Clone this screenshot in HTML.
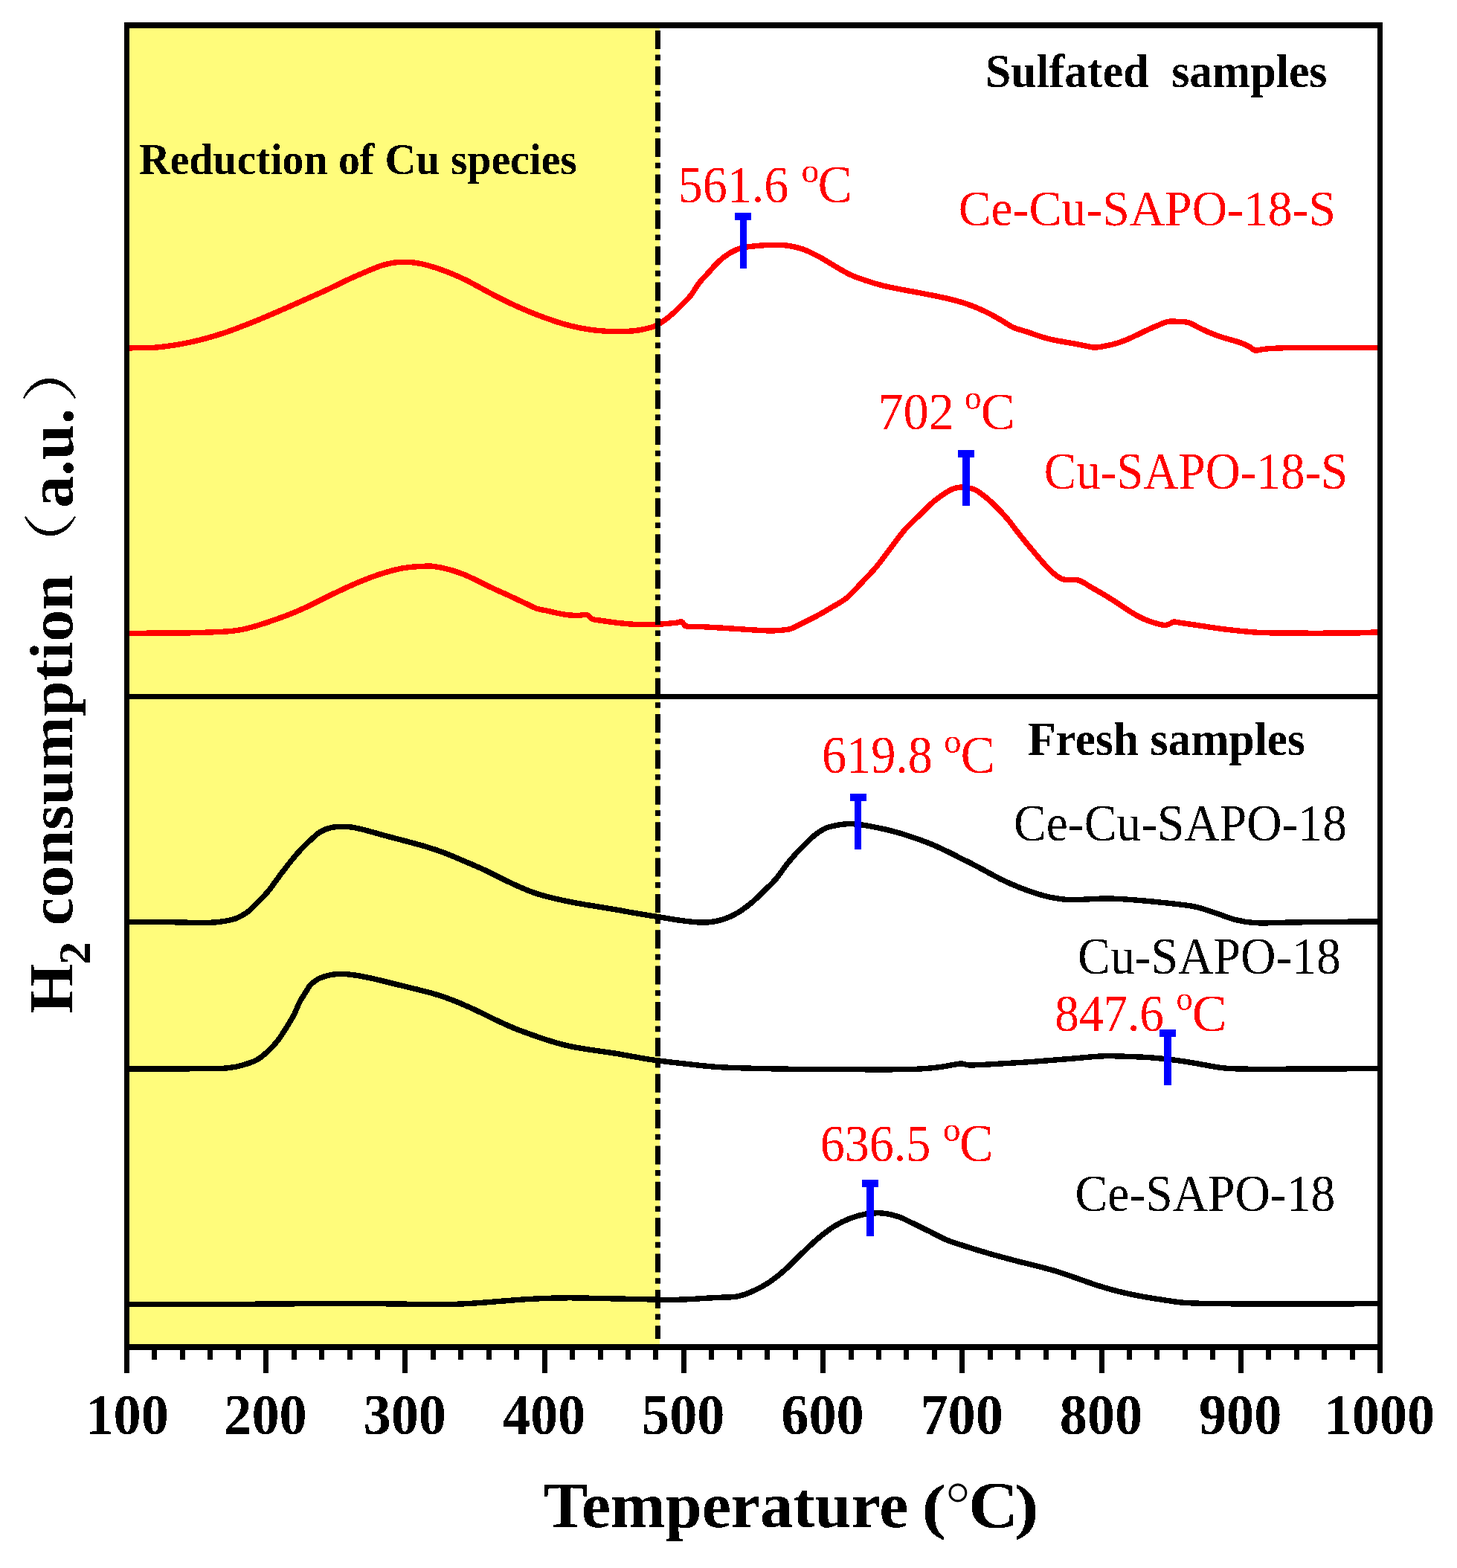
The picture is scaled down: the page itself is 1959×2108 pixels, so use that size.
<!DOCTYPE html>
<html><head><meta charset="utf-8"><title>H2-TPR</title>
<style>html,body{margin:0;padding:0;background:#fff;} svg{display:block;}</style></head>
<body><svg width="1959" height="2108" viewBox="0 0 1959 2108">
<defs><filter id="bin" filterUnits="userSpaceOnUse" x="0" y="0" width="1959" height="2108"><feComponentTransfer><feFuncA type="discrete" tableValues="0 1"/></feComponentTransfer></filter></defs>
<rect width="1959" height="2108" fill="#fff"/>
<rect x="174" y="38" width="713" height="1769" fill="#FFFC7B"/>
<path d="M174.0,467.9 C187.1,467.5 200.2,468.1 213.3,466.8 C227.7,465.4 242.2,463.0 256.6,459.9 C271.0,456.8 285.5,452.7 299.9,448.0 C314.3,443.3 328.8,437.5 343.2,431.7 C357.6,425.9 372.1,419.6 386.5,413.3 C401.0,407.0 415.5,400.5 430.0,394.0 C434.7,391.9 439.4,389.7 444.1,387.5 C448.8,385.3 453.4,382.9 458.1,380.6 C462.8,378.4 467.5,376.1 472.2,374.0 C476.9,371.8 481.6,369.8 486.3,367.8 C491.0,365.8 495.6,363.7 500.3,361.9 C505.0,360.0 509.7,358.0 514.4,356.6 C519.1,355.2 523.8,354.1 528.5,353.3 C533.2,352.6 537.8,352.3 542.5,352.2 C547.2,352.2 551.9,352.5 556.6,353.0 C561.3,353.6 566.0,354.5 570.7,355.6 C575.4,356.8 580.1,358.2 584.8,359.7 C589.5,361.2 594.1,362.9 598.8,364.6 C603.5,366.4 608.2,368.2 612.9,370.3 C617.6,372.3 622.3,374.5 627.0,376.8 C631.3,379.0 635.7,381.3 640.0,383.7 C644.7,386.2 649.4,388.8 654.1,391.4 C658.8,393.9 663.4,396.4 668.1,398.8 C672.8,401.2 677.5,403.6 682.2,405.9 C686.9,408.1 691.6,410.3 696.3,412.4 C701.0,414.5 705.6,416.6 710.3,418.5 C715.0,420.5 719.7,422.3 724.4,424.1 C729.1,425.9 733.8,427.6 738.5,429.2 C743.2,430.9 747.8,432.5 752.5,433.9 C757.2,435.3 761.9,436.7 766.6,437.9 C771.3,439.0 776.0,440.1 780.7,441.0 C785.4,441.9 790.1,442.7 794.8,443.4 C799.5,444.0 804.1,444.5 808.8,444.8 C813.5,445.2 818.2,445.5 822.9,445.7 C827.6,445.8 832.3,445.9 837.0,445.7 C841.7,445.6 846.3,445.3 851.0,444.9 C854.0,444.6 857.0,444.2 860.0,443.7 C862.9,443.2 865.8,442.5 868.7,441.8 C871.6,441.2 874.4,440.5 877.3,439.7 C878.5,439.3 879.6,438.9 880.8,438.3 C883.2,437.1 885.7,435.6 888.1,434.1 C890.3,432.7 892.4,431.3 894.6,429.7 C897.5,427.5 900.4,425.2 903.3,422.7 C906.2,420.2 909.0,417.4 911.9,414.6 C914.8,411.7 917.7,408.7 920.6,405.7 C923.5,402.7 926.4,400.3 929.3,396.5 C932.7,392.0 936.2,385.4 939.6,381.0 C943.9,375.4 948.3,371.3 952.6,366.5 C956.9,361.7 961.2,356.5 965.5,352.4 C969.8,348.3 974.2,344.8 978.5,342.0 C983.7,338.7 988.9,335.8 994.1,334.2 C1000.5,332.2 1006.9,331.7 1013.3,331.0 C1020.5,330.1 1027.7,329.6 1034.9,329.5 C1042.1,329.3 1049.4,329.0 1056.6,329.9 C1063.8,330.8 1071.0,332.2 1078.2,334.6 C1085.4,337.0 1092.7,340.6 1099.9,344.4 C1107.1,348.1 1114.3,353.0 1121.5,357.1 C1128.7,361.3 1136.0,365.9 1143.2,369.3 C1150.4,372.7 1157.6,374.9 1164.8,377.4 C1172.0,379.8 1179.3,382.0 1186.5,383.9 C1193.7,385.7 1200.9,387.0 1208.1,388.4 C1215.3,389.9 1222.5,391.1 1229.7,392.4 C1236.5,393.7 1243.2,395.0 1250.0,396.4 C1254.7,397.3 1259.4,398.2 1264.1,399.2 C1268.8,400.2 1273.4,401.2 1278.1,402.4 C1282.8,403.6 1287.5,404.8 1292.2,406.2 C1296.9,407.7 1301.6,409.2 1306.3,411.0 C1311.0,412.7 1315.6,414.6 1320.3,416.8 C1325.0,418.9 1329.7,421.3 1334.4,423.8 C1339.1,426.4 1343.8,429.2 1348.5,431.9 C1353.2,434.7 1357.8,438.2 1362.5,440.3 C1367.2,442.4 1371.9,443.2 1376.6,444.8 C1381.3,446.3 1386.0,447.9 1390.7,449.5 C1395.4,451.1 1400.1,452.7 1404.8,454.1 C1409.5,455.4 1414.1,456.6 1418.8,457.5 C1423.5,458.5 1428.2,459.2 1432.9,460.0 C1437.6,460.8 1442.3,461.6 1447.0,462.5 C1451.7,463.4 1456.3,464.4 1461.0,465.3 C1464.8,466.0 1468.5,467.2 1472.3,467.1 C1477.9,466.9 1483.6,465.5 1489.2,464.5 C1492.8,463.8 1496.4,463.0 1500.0,461.9 C1504.7,460.5 1509.4,458.8 1514.1,457.0 C1518.8,455.1 1523.4,452.8 1528.1,450.6 C1532.8,448.4 1537.5,445.9 1542.2,443.8 C1546.9,441.6 1551.6,439.5 1556.3,437.6 C1561.0,435.8 1565.6,433.3 1570.3,432.4 C1575.0,431.5 1579.7,432.2 1584.4,432.4 C1589.1,432.6 1593.8,432.4 1598.5,433.8 C1603.2,435.2 1607.8,438.5 1612.5,440.8 C1617.2,443.0 1621.9,445.3 1626.6,447.3 C1631.3,449.3 1636.0,451.0 1640.7,452.6 C1645.4,454.2 1650.1,455.4 1654.8,456.8 C1659.5,458.2 1664.1,459.3 1668.8,461.1 C1672.6,462.5 1676.3,464.1 1680.1,466.2 C1682.4,467.5 1684.8,470.5 1687.1,471.0 C1690.4,471.7 1693.7,470.2 1697.0,469.8 C1699.3,469.5 1701.7,469.1 1704.0,468.9 C1711.0,468.4 1718.1,467.9 1725.1,467.8 C1736.7,467.5 1748.4,467.8 1760.0,467.8 C1791.7,467.7 1823.3,467.6 1855.0,467.5" fill="none" stroke="#FF0000" stroke-width="7.4" stroke-linejoin="round" shape-rendering="crispEdges"/>
<path d="M174.0,851.5 C187.1,851.3 200.2,851.1 213.3,851.0 C227.7,850.9 242.2,851.1 256.6,850.8 C271.1,850.5 285.5,849.9 300.0,849.2 C304.7,849.0 309.4,848.7 314.1,848.1 C318.8,847.6 323.4,846.8 328.1,845.8 C332.8,844.8 337.5,843.4 342.2,842.1 C346.9,840.8 351.6,839.2 356.3,837.7 C361.0,836.2 365.6,834.6 370.3,832.9 C375.0,831.3 379.7,829.6 384.4,827.8 C389.1,826.0 393.8,824.2 398.5,822.2 C403.2,820.2 407.8,818.1 412.5,815.9 C417.2,813.7 421.9,811.3 426.6,809.0 C431.3,806.7 436.0,804.3 440.7,802.0 C445.4,799.7 450.1,797.3 454.8,795.1 C459.5,792.9 464.1,790.7 468.8,788.6 C473.5,786.5 478.2,784.4 482.9,782.5 C487.6,780.5 492.3,778.6 497.0,776.8 C501.7,775.1 506.3,773.4 511.0,771.9 C515.7,770.4 520.4,768.9 525.1,767.7 C529.8,766.4 534.5,765.2 539.2,764.3 C543.9,763.4 548.5,762.8 553.2,762.3 C555.5,762.0 557.7,761.9 560.0,761.8 C564.7,761.5 569.4,761.2 574.1,761.1 C576.4,761.0 578.8,761.0 581.1,761.2 C585.8,761.8 590.5,762.6 595.2,763.6 C599.9,764.6 604.5,765.8 609.2,767.2 C613.9,768.7 618.6,770.3 623.3,772.1 C628.0,774.0 632.7,776.3 637.4,778.5 C642.1,780.7 646.7,783.2 651.4,785.5 C656.1,787.8 660.8,790.0 665.5,792.2 C670.2,794.4 674.9,796.4 679.6,798.5 C684.3,800.7 689.0,802.9 693.7,805.1 C698.4,807.3 703.0,809.5 707.7,811.7 C712.4,813.9 717.1,816.6 721.8,818.2 C726.5,819.8 731.2,820.2 735.9,821.2 C740.6,822.2 745.2,823.5 749.9,824.4 C754.6,825.3 759.3,826.3 764.0,826.8 C768.7,827.3 773.4,827.4 778.1,827.4 C781.8,827.3 785.6,825.7 789.3,826.7 C791.7,827.3 794.0,831.3 796.4,832.3 C799.7,833.7 802.9,833.5 806.2,834.0 C810.8,834.7 815.4,835.4 820.0,836.0 C825.1,836.7 830.1,837.4 835.2,837.9 C840.2,838.4 845.3,838.9 850.3,839.2 C855.4,839.5 860.4,839.7 865.5,839.7 C870.5,839.7 875.6,839.6 880.6,839.4 C885.7,839.2 890.7,838.9 895.8,838.5 C900.8,838.1 905.9,837.5 910.9,837.0 C912.9,836.7 915.0,835.2 917.0,836.1 C918.5,836.8 920.0,841.3 921.5,841.7 C928.1,843.4 934.6,842.2 941.2,842.5 C951.3,843.1 961.4,843.6 971.5,844.2 C981.6,844.9 991.7,845.6 1001.8,846.2 C1011.9,846.8 1022.0,847.6 1032.1,847.9 C1037.2,848.0 1042.2,847.9 1047.3,847.5 C1052.3,847.1 1057.4,847.0 1062.4,845.5 C1067.5,844.0 1072.5,840.9 1077.6,838.5 C1085.1,834.8 1092.5,831.2 1100.0,827.1 C1106.5,823.6 1113.0,819.7 1119.5,815.8 C1126.0,811.8 1132.5,808.8 1139.0,803.4 C1145.5,798.0 1151.9,790.3 1158.4,783.5 C1164.9,776.6 1171.4,770.2 1177.9,762.5 C1184.4,754.8 1190.9,745.6 1197.4,737.1 C1203.9,728.7 1210.4,719.2 1216.9,711.8 C1223.4,704.4 1229.9,698.9 1236.4,692.5 C1242.9,686.2 1249.4,679.2 1255.9,673.8 C1262.4,668.4 1268.8,663.8 1275.3,660.2 C1279.9,657.6 1284.4,655.9 1289.0,655.3 C1294.2,654.6 1299.4,655.3 1304.6,656.3 C1307.8,656.9 1311.1,658.0 1314.3,660.2 C1320.8,664.5 1327.3,669.8 1333.8,675.8 C1340.3,681.8 1346.8,688.6 1353.3,696.2 C1359.8,703.7 1366.2,713.0 1372.7,721.0 C1379.2,729.1 1385.7,736.9 1392.2,744.5 C1398.7,752.0 1405.2,760.2 1411.7,766.4 C1416.9,771.4 1422.1,775.7 1427.3,778.1 C1431.5,780.1 1435.8,779.1 1440.0,779.5 C1443.8,779.9 1447.5,779.0 1451.3,780.4 C1456.9,782.5 1462.5,786.9 1468.1,790.1 C1472.8,792.8 1477.5,795.4 1482.2,798.2 C1486.9,800.9 1491.6,803.8 1496.3,806.8 C1501.0,809.8 1505.6,813.0 1510.3,816.1 C1515.0,819.1 1519.7,822.3 1524.4,825.1 C1529.1,827.8 1533.8,830.4 1538.5,832.5 C1543.2,834.5 1547.8,836.1 1552.5,837.5 C1557.2,838.8 1561.9,840.3 1566.6,840.5 C1569.0,840.6 1571.3,839.2 1573.7,838.2 C1575.1,837.7 1576.5,836.1 1577.9,836.0 C1581.2,835.8 1584.4,836.9 1587.7,837.4 C1594.7,838.4 1601.8,839.4 1608.8,840.4 C1618.2,841.8 1627.6,843.4 1637.0,844.7 C1646.4,846.0 1655.7,847.1 1665.1,848.0 C1676.7,849.1 1688.4,850.5 1700.0,850.7 C1740.3,851.5 1780.5,851.3 1820.8,851.0 C1832.2,850.9 1843.6,850.1 1855.0,849.7" fill="none" stroke="#FF0000" stroke-width="7.4" stroke-linejoin="round" shape-rendering="crispEdges"/>
<path d="M174.0,1239.4 C194.3,1239.5 214.6,1239.6 234.9,1239.8 C245.7,1239.9 256.6,1240.5 267.4,1240.5 C274.9,1240.5 282.5,1240.5 290.0,1239.9 C294.7,1239.6 299.4,1238.9 304.1,1238.0 C308.8,1237.1 313.4,1236.3 318.1,1234.4 C322.8,1232.5 327.5,1230.1 332.2,1226.6 C336.9,1223.1 341.6,1218.0 346.3,1213.2 C351.0,1208.6 355.6,1204.1 360.3,1198.5 C365.0,1192.9 369.7,1185.8 374.4,1179.5 C379.1,1173.2 383.8,1166.9 388.5,1161.0 C393.2,1155.2 397.8,1149.4 402.5,1144.3 C407.2,1139.2 411.9,1134.6 416.6,1130.2 C421.3,1125.9 426.0,1121.2 430.7,1118.3 C435.4,1115.4 440.1,1113.9 444.8,1112.7 C449.5,1111.5 454.1,1111.5 458.8,1111.4 C463.5,1111.3 468.2,1111.5 472.9,1112.1 C477.6,1112.7 482.3,1113.9 487.0,1115.0 C491.7,1116.1 496.3,1117.5 501.0,1118.8 C505.7,1120.1 510.4,1121.4 515.1,1122.7 C519.8,1124.0 524.5,1125.2 529.2,1126.5 C537.5,1128.7 545.8,1130.8 554.1,1133.1 C558.8,1134.3 563.4,1135.6 568.1,1136.9 C572.8,1138.3 577.5,1139.7 582.2,1141.3 C586.9,1142.8 591.6,1144.4 596.3,1146.2 C601.0,1148.0 605.6,1149.9 610.3,1151.8 C615.0,1153.8 619.7,1155.8 624.4,1157.8 C629.1,1159.8 633.8,1161.7 638.5,1163.8 C643.2,1165.8 647.8,1167.9 652.5,1170.1 C657.2,1172.3 661.9,1174.7 666.6,1177.0 C671.3,1179.3 676.0,1181.7 680.7,1184.0 C685.4,1186.3 690.1,1188.6 694.8,1190.7 C699.5,1192.8 704.1,1194.8 708.8,1196.7 C713.5,1198.5 718.2,1200.3 722.9,1201.8 C727.6,1203.3 732.3,1204.6 737.0,1205.8 C741.7,1207.0 746.3,1208.1 751.0,1209.1 C755.7,1210.2 760.4,1211.2 765.1,1212.1 C769.8,1213.1 774.5,1214.0 779.2,1214.8 C786.1,1216.1 793.1,1217.2 800.0,1218.3 C802.7,1218.8 805.4,1219.1 808.1,1219.6 C815.3,1220.8 822.5,1222.0 829.7,1223.2 C836.9,1224.5 844.2,1225.9 851.4,1227.2 C858.6,1228.4 865.8,1229.5 873.0,1230.7 C880.2,1231.8 887.5,1233.0 894.7,1234.2 C901.9,1235.4 909.1,1236.7 916.3,1237.6 C924.2,1238.7 932.1,1239.6 940.0,1240.0 C944.3,1240.3 948.7,1240.2 953.0,1239.8 C957.3,1239.4 961.7,1238.7 966.0,1237.7 C970.3,1236.6 974.7,1235.3 979.0,1233.5 C983.3,1231.8 987.7,1229.6 992.0,1227.0 C996.3,1224.5 1000.6,1221.4 1004.9,1218.1 C1009.2,1214.8 1013.6,1211.0 1017.9,1207.0 C1022.2,1203.1 1026.6,1198.7 1030.9,1194.3 C1035.2,1190.0 1039.6,1186.1 1043.9,1180.9 C1048.2,1175.7 1052.6,1168.9 1056.9,1163.3 C1061.2,1157.8 1065.6,1152.6 1069.9,1147.8 C1074.2,1143.0 1078.6,1138.7 1082.9,1134.5 C1087.2,1130.3 1091.5,1125.9 1095.8,1122.5 C1100.1,1119.1 1104.5,1116.1 1108.8,1114.0 C1113.1,1111.9 1117.5,1111.1 1121.8,1110.1 C1126.1,1109.1 1130.5,1108.4 1134.8,1108.0 C1139.1,1107.6 1143.5,1107.6 1147.8,1107.8 C1152.1,1108.0 1156.5,1108.5 1160.8,1109.2 C1167.2,1110.2 1173.6,1111.5 1180.0,1112.8 C1184.7,1113.7 1189.4,1114.8 1194.1,1115.9 C1198.8,1117.1 1203.4,1118.3 1208.1,1119.6 C1212.8,1121.0 1217.5,1122.5 1222.2,1124.0 C1226.9,1125.5 1231.6,1127.1 1236.3,1128.8 C1241.0,1130.5 1245.6,1132.2 1250.3,1134.1 C1255.0,1136.0 1259.7,1138.1 1264.4,1140.3 C1269.1,1142.4 1273.8,1144.8 1278.5,1147.1 C1283.2,1149.4 1287.8,1151.8 1292.5,1154.2 C1297.2,1156.5 1301.9,1158.8 1306.6,1161.2 C1311.3,1163.6 1316.0,1166.1 1320.7,1168.6 C1325.4,1171.1 1330.1,1173.8 1334.8,1176.3 C1339.5,1178.8 1344.1,1181.3 1348.8,1183.5 C1353.5,1185.8 1358.2,1187.9 1362.9,1189.8 C1367.6,1191.8 1372.3,1193.7 1377.0,1195.5 C1381.7,1197.3 1386.3,1198.9 1391.0,1200.4 C1395.7,1201.9 1400.4,1203.4 1405.1,1204.6 C1409.8,1205.8 1414.5,1206.9 1419.2,1207.5 C1426.1,1208.5 1433.1,1209.7 1440.0,1209.7 C1456.4,1209.8 1472.9,1207.9 1489.3,1208.0 C1502.6,1208.1 1515.8,1209.1 1529.1,1210.2 C1546.8,1211.6 1564.4,1213.5 1582.1,1215.5 C1591.0,1216.5 1599.8,1217.4 1608.7,1219.4 C1617.5,1221.4 1626.4,1224.8 1635.2,1227.7 C1644.0,1230.6 1652.9,1234.5 1661.7,1236.7 C1670.5,1238.9 1679.4,1240.3 1688.2,1240.7 C1705.9,1241.4 1723.6,1240.1 1741.3,1239.9 C1779.2,1239.5 1817.1,1239.2 1855.0,1238.8" fill="none" stroke="#000" stroke-width="7.4" stroke-linejoin="round" shape-rendering="crispEdges"/>
<path d="M174.0,1436.8 C194.3,1436.8 214.6,1436.8 234.9,1436.8 C253.3,1436.8 271.6,1436.9 290.0,1436.6 C294.7,1436.6 299.4,1436.4 304.1,1436.0 C308.8,1435.5 313.4,1434.9 318.1,1434.0 C322.8,1433.0 327.5,1431.7 332.2,1430.1 C336.9,1428.5 341.6,1427.2 346.3,1424.4 C351.0,1421.6 355.6,1417.6 360.3,1413.2 C365.0,1408.7 369.7,1403.9 374.4,1397.7 C379.1,1391.5 383.8,1383.4 388.5,1375.9 C390.8,1372.1 393.2,1368.6 395.5,1363.9 C397.8,1359.2 400.2,1352.4 402.5,1347.8 C404.9,1343.1 407.2,1339.9 409.6,1336.1 C411.9,1332.4 414.3,1328.1 416.6,1325.2 C419.0,1322.3 421.3,1320.6 423.7,1318.9 C426.0,1317.1 428.4,1315.6 430.7,1314.7 C435.4,1312.9 440.1,1311.5 444.8,1310.6 C449.5,1309.7 454.1,1309.4 458.8,1309.4 C463.5,1309.4 468.2,1309.9 472.9,1310.4 C477.6,1311.0 482.3,1311.8 487.0,1312.7 C491.7,1313.6 496.3,1314.5 501.0,1315.6 C505.7,1316.6 510.4,1317.8 515.1,1318.9 C519.8,1320.0 524.5,1321.2 529.2,1322.4 C537.5,1324.4 545.8,1326.4 554.1,1328.5 C558.8,1329.6 563.4,1330.8 568.1,1332.0 C572.8,1333.2 577.5,1334.3 582.2,1335.7 C586.9,1337.0 591.6,1338.4 596.3,1340.1 C601.0,1341.7 605.6,1343.5 610.3,1345.3 C615.0,1347.2 619.7,1349.1 624.4,1351.2 C629.1,1353.2 633.8,1355.3 638.5,1357.5 C643.2,1359.7 647.8,1362.0 652.5,1364.3 C657.2,1366.6 661.9,1369.0 666.6,1371.2 C671.3,1373.4 676.0,1375.6 680.7,1377.7 C685.4,1379.8 690.1,1381.8 694.8,1383.7 C699.5,1385.5 704.1,1387.2 708.8,1388.9 C713.5,1390.6 718.2,1392.3 722.9,1393.9 C727.6,1395.5 732.3,1397.1 737.0,1398.6 C741.7,1400.1 746.3,1401.5 751.0,1402.8 C755.7,1404.1 760.4,1405.3 765.1,1406.3 C769.8,1407.4 774.5,1408.2 779.2,1409.0 C786.1,1410.2 793.1,1411.2 800.0,1412.2 C809.9,1413.7 819.8,1415.0 829.7,1416.6 C844.1,1419.0 858.6,1422.0 873.0,1424.2 C887.4,1426.4 901.9,1428.0 916.3,1429.6 C934.2,1431.6 952.1,1433.9 970.0,1434.8 C1002.1,1436.4 1034.2,1436.8 1066.3,1437.3 C1098.4,1437.8 1130.5,1437.7 1162.6,1437.8 C1175.1,1437.8 1187.5,1437.9 1200.0,1437.8 C1209.0,1437.8 1218.1,1437.8 1227.1,1437.5 C1236.1,1437.2 1245.1,1436.5 1254.1,1435.7 C1259.5,1435.2 1264.9,1434.4 1270.3,1433.6 C1277.5,1432.5 1284.8,1430.4 1292.0,1430.0 C1295.6,1429.8 1299.2,1431.9 1302.8,1431.9 C1313.6,1432.1 1324.5,1431.2 1335.3,1430.6 C1353.3,1429.6 1371.4,1428.6 1389.4,1427.3 C1407.4,1426.0 1425.5,1424.4 1443.5,1423.0 C1457.0,1421.9 1470.6,1420.2 1484.1,1419.8 C1497.6,1419.4 1511.2,1420.2 1524.7,1420.7 C1533.7,1421.0 1542.7,1421.4 1551.7,1422.2 C1560.7,1422.9 1569.8,1423.9 1578.8,1425.1 C1587.8,1426.2 1596.8,1427.7 1605.8,1429.2 C1619.3,1431.4 1632.9,1434.8 1646.4,1436.0 C1664.3,1437.5 1682.1,1437.3 1700.0,1437.3 C1751.7,1437.4 1803.3,1436.8 1855.0,1436.5" fill="none" stroke="#000" stroke-width="7.4" stroke-linejoin="round" shape-rendering="crispEdges"/>
<path d="M174.0,1753.2 C230.4,1753.2 286.8,1753.4 343.2,1753.2 C386.5,1753.1 429.7,1752.3 473.0,1752.4 C505.3,1752.4 537.7,1753.2 570.0,1753.5 C580.8,1753.6 591.7,1753.8 602.5,1753.6 C613.3,1753.4 624.1,1752.9 634.9,1752.2 C645.7,1751.6 656.6,1750.6 667.4,1749.8 C678.2,1748.9 689.1,1748.0 699.9,1747.2 C710.7,1746.5 721.5,1745.9 732.3,1745.5 C743.1,1745.1 754.0,1744.9 764.8,1744.8 C775.6,1744.8 786.5,1745.1 797.3,1745.3 C808.1,1745.5 818.9,1745.7 829.7,1746.0 C840.5,1746.2 851.4,1746.4 862.2,1746.6 C869.4,1746.8 876.7,1747.0 883.9,1747.1 C891.1,1747.3 898.3,1747.5 905.5,1747.4 C912.7,1747.3 919.9,1747.0 927.1,1746.7 C934.3,1746.4 941.6,1745.7 948.8,1745.3 C955.9,1744.9 962.9,1744.6 970.0,1744.2 C977.2,1743.7 984.4,1744.4 991.6,1742.9 C998.8,1741.4 1006.1,1738.6 1013.3,1735.3 C1020.5,1732.1 1027.7,1728.3 1034.9,1723.4 C1042.1,1718.5 1049.4,1712.5 1056.6,1706.1 C1063.8,1699.7 1071.0,1691.8 1078.2,1685.0 C1085.4,1678.1 1092.7,1671.0 1099.9,1664.9 C1107.1,1658.9 1114.3,1653.2 1121.5,1648.7 C1128.7,1644.2 1136.0,1640.7 1143.2,1637.9 C1150.4,1635.1 1157.6,1633.1 1164.8,1632.0 C1172.0,1630.8 1179.3,1630.4 1186.5,1631.0 C1193.7,1631.6 1200.9,1633.2 1208.1,1635.7 C1215.3,1638.2 1222.5,1642.3 1229.7,1645.7 C1236.9,1649.2 1244.2,1652.7 1251.4,1656.3 C1258.6,1659.9 1265.8,1664.1 1273.0,1667.1 C1280.2,1670.1 1287.5,1672.1 1294.7,1674.4 C1301.9,1676.8 1309.1,1679.0 1316.3,1681.2 C1323.5,1683.4 1330.8,1685.5 1338.0,1687.5 C1348.7,1690.5 1359.3,1693.3 1370.0,1696.1 C1378.8,1698.3 1387.7,1700.3 1396.5,1702.6 C1405.3,1704.9 1414.2,1707.2 1423.0,1710.0 C1431.9,1712.7 1440.7,1716.0 1449.6,1719.1 C1458.4,1722.1 1467.3,1725.5 1476.1,1728.3 C1484.9,1731.1 1493.8,1733.7 1502.6,1735.9 C1511.4,1738.1 1520.3,1740.0 1529.1,1741.7 C1537.9,1743.5 1546.8,1744.9 1555.6,1746.3 C1564.4,1747.7 1573.3,1749.1 1582.1,1750.3 C1586.5,1750.9 1591.0,1751.3 1595.4,1751.6 C1608.7,1752.2 1621.9,1752.6 1635.2,1752.7 C1670.6,1753.1 1705.9,1753.0 1741.3,1753.0 C1779.2,1753.0 1817.1,1752.8 1855.0,1752.7" fill="none" stroke="#000" stroke-width="7.4" stroke-linejoin="round" shape-rendering="crispEdges"/>
<rect x="988" y="286" width="22" height="10" fill="#0000FF"/>
<rect x="995" y="295" width="9" height="66" fill="#0000FF"/>
<rect x="1288" y="605" width="22" height="10" fill="#0000FF"/>
<rect x="1294" y="614" width="10" height="66" fill="#0000FF"/>
<rect x="1143" y="1067" width="22" height="10" fill="#0000FF"/>
<rect x="1149" y="1076" width="9" height="66" fill="#0000FF"/>
<rect x="1559" y="1384" width="22" height="10" fill="#0000FF"/>
<rect x="1565" y="1393" width="10" height="66" fill="#0000FF"/>
<rect x="1159" y="1586" width="22" height="10" fill="#0000FF"/>
<rect x="1165" y="1595" width="10" height="67" fill="#0000FF"/>
<line x1="884.5" y1="41" x2="884.5" y2="1800" stroke="#000" stroke-width="7" stroke-dasharray="25 7.6 7.6 8.17"/>
<rect x="167" y="30" width="1692" height="8" fill="#000"/>
<rect x="167" y="1807" width="1692" height="8" fill="#000"/>
<rect x="167" y="933" width="1692" height="7" fill="#000"/>
<rect x="167" y="30" width="7" height="1816" fill="#000"/>
<rect x="1852" y="30" width="7" height="1816" fill="#000"/>
<rect x="204" y="1814" width="7" height="14" fill="#000"/>
<rect x="242" y="1814" width="7" height="14" fill="#000"/>
<rect x="279" y="1814" width="7" height="14" fill="#000"/>
<rect x="317" y="1814" width="7" height="14" fill="#000"/>
<rect x="354" y="1814" width="7" height="32" fill="#000"/>
<rect x="392" y="1814" width="7" height="14" fill="#000"/>
<rect x="429" y="1814" width="7" height="14" fill="#000"/>
<rect x="467" y="1814" width="7" height="14" fill="#000"/>
<rect x="504" y="1814" width="7" height="14" fill="#000"/>
<rect x="541" y="1814" width="7" height="32" fill="#000"/>
<rect x="579" y="1814" width="7" height="14" fill="#000"/>
<rect x="616" y="1814" width="7" height="14" fill="#000"/>
<rect x="654" y="1814" width="7" height="14" fill="#000"/>
<rect x="691" y="1814" width="7" height="14" fill="#000"/>
<rect x="729" y="1814" width="7" height="32" fill="#000"/>
<rect x="766" y="1814" width="7" height="14" fill="#000"/>
<rect x="804" y="1814" width="7" height="14" fill="#000"/>
<rect x="841" y="1814" width="7" height="14" fill="#000"/>
<rect x="878" y="1814" width="7" height="14" fill="#000"/>
<rect x="916" y="1814" width="7" height="32" fill="#000"/>
<rect x="953" y="1814" width="7" height="14" fill="#000"/>
<rect x="991" y="1814" width="7" height="14" fill="#000"/>
<rect x="1028" y="1814" width="7" height="14" fill="#000"/>
<rect x="1066" y="1814" width="7" height="14" fill="#000"/>
<rect x="1103" y="1814" width="7" height="32" fill="#000"/>
<rect x="1141" y="1814" width="7" height="14" fill="#000"/>
<rect x="1178" y="1814" width="7" height="14" fill="#000"/>
<rect x="1215" y="1814" width="7" height="14" fill="#000"/>
<rect x="1253" y="1814" width="7" height="14" fill="#000"/>
<rect x="1290" y="1814" width="7" height="32" fill="#000"/>
<rect x="1328" y="1814" width="7" height="14" fill="#000"/>
<rect x="1365" y="1814" width="7" height="14" fill="#000"/>
<rect x="1403" y="1814" width="7" height="14" fill="#000"/>
<rect x="1440" y="1814" width="7" height="14" fill="#000"/>
<rect x="1478" y="1814" width="7" height="32" fill="#000"/>
<rect x="1515" y="1814" width="7" height="14" fill="#000"/>
<rect x="1552" y="1814" width="7" height="14" fill="#000"/>
<rect x="1590" y="1814" width="7" height="14" fill="#000"/>
<rect x="1627" y="1814" width="7" height="14" fill="#000"/>
<rect x="1665" y="1814" width="7" height="32" fill="#000"/>
<rect x="1702" y="1814" width="7" height="14" fill="#000"/>
<rect x="1740" y="1814" width="7" height="14" fill="#000"/>
<rect x="1777" y="1814" width="7" height="14" fill="#000"/>
<rect x="1815" y="1814" width="7" height="14" fill="#000"/>
<g filter="url(#bin)">
<text transform="translate(1324.91,117.40) scale(0.9644,1.0000)" font-family='"Liberation Serif", serif' font-weight="700" font-size="64" fill="#000">Sulfated  samples</text>
<text transform="translate(187.02,233.90) scale(0.9751,1.0000)" font-family='"Liberation Serif", serif' font-weight="700" font-size="59.25" fill="#000">Reduction of Cu species</text>
<text transform="translate(1382.02,1015.00) scale(0.9794,1.0000)" font-family='"Liberation Serif", serif' font-weight="700" font-size="62.8" fill="#000">Fresh samples</text>
<text transform="translate(730.98,2052.90) scale(1.0188,1.0000)" font-family='"Liberation Serif", serif' font-weight="700" font-size="86.7" fill="#000">Temperature</text>
<text transform="translate(1239.53,2053.33) scale(1.1183,0.9596)" font-family='"Liberation Serif", serif' font-weight="700" font-size="86.7" fill="#000">(</text>
<text transform="translate(1270.80,2050.76) scale(0.9942,1.0050)" font-family='"Liberation Serif", serif' font-weight="400" font-size="86.7" fill="#000" style="stroke:#fff;stroke-width:1.2px">°</text>
<text transform="translate(1302.11,2053.37) scale(1.0695,1.0311)" font-family='"Liberation Serif", serif' font-weight="700" font-size="86.7" fill="#000">C</text>
<text transform="translate(1363.54,2053.33) scale(1.1547,0.9596)" font-family='"Liberation Serif", serif' font-weight="700" font-size="86.7" fill="#000">)</text>
<text transform="translate(911.77,271.78) scale(0.9570,1.0055)" font-family='"Liberation Serif", serif' font-weight="400" font-size="69" fill="#FF0000">561.6</text>
<text transform="translate(1077.47,244.61) scale(1.0569,1.0215)" font-family='"Liberation Serif", serif' font-weight="400" font-size="45" fill="#FF0000">o</text>
<text transform="translate(1099.60,272.00) scale(1.0000,1.0308)" font-family='"Liberation Serif", serif' font-weight="400" font-size="69" fill="#FF0000">C</text>
<text transform="translate(1180.24,576.60) scale(0.9916,1.0000)" font-family='"Liberation Serif", serif' font-weight="400" font-size="69" fill="#FF0000">702</text>
<text transform="translate(1297.00,549.80) scale(1.0000,1.0106)" font-family='"Liberation Serif", serif' font-weight="400" font-size="45" fill="#FF0000">o</text>
<text transform="translate(1318.81,576.60) scale(0.9952,1.0000)" font-family='"Liberation Serif", serif' font-weight="400" font-size="69" fill="#FF0000">C</text>
<text transform="translate(1104.92,1038.80) scale(0.9600,1.0352)" font-family='"Liberation Serif", serif' font-weight="400" font-size="69" fill="#FF0000">619.8</text>
<text transform="translate(1269.32,1012.22) scale(1.0326,1.0408)" font-family='"Liberation Serif", serif' font-weight="400" font-size="45" fill="#FF0000">o</text>
<text transform="translate(1291.58,1038.79) scale(1.0053,1.0397)" font-family='"Liberation Serif", serif' font-weight="400" font-size="69" fill="#FF0000">C</text>
<text transform="translate(1418.36,1385.61) scale(0.9441,1.0263)" font-family='"Liberation Serif", serif' font-weight="400" font-size="69" fill="#FF0000">847.6</text>
<text transform="translate(1581.57,1357.80) scale(0.9834,1.0106)" font-family='"Liberation Serif", serif' font-weight="400" font-size="45" fill="#FF0000">o</text>
<text transform="translate(1602.75,1385.60) scale(1.0156,1.0132)" font-family='"Liberation Serif", serif' font-weight="400" font-size="69" fill="#FF0000">C</text>
<text transform="translate(1102.73,1560.81) scale(0.9574,1.0132)" font-family='"Liberation Serif", serif' font-weight="400" font-size="69" fill="#FF0000">636.5</text>
<text transform="translate(1267.91,1534.20) scale(1.0428,1.0301)" font-family='"Liberation Serif", serif' font-weight="400" font-size="45" fill="#FF0000">o</text>
<text transform="translate(1290.02,1560.80) scale(0.9858,1.0352)" font-family='"Liberation Serif", serif' font-weight="400" font-size="69" fill="#FF0000">C</text>
<text transform="translate(1288.70,303.22) scale(0.9664,1.0014)" font-family='"Liberation Serif", serif' font-weight="400" font-size="68" fill="#FF0000">Ce-Cu-SAPO-18-S</text>
<text transform="translate(1403.73,656.61) scale(0.9571,1.0189)" font-family='"Liberation Serif", serif' font-weight="400" font-size="68" fill="#FF0000">Cu-SAPO-18-S</text>
<text transform="translate(1363.11,1130.01) scale(0.9638,1.0232)" font-family='"Liberation Serif", serif' font-weight="400" font-size="68" fill="#000">Ce-Cu-SAPO-18</text>
<text transform="translate(1449.10,1308.80) scale(0.9657,1.0279)" font-family='"Liberation Serif", serif' font-weight="400" font-size="68" fill="#000">Cu-SAPO-18</text>
<text transform="translate(1445.50,1628.20) scale(0.9647,1.0411)" font-family='"Liberation Serif", serif' font-weight="400" font-size="68" fill="#000">Ce-SAPO-18</text>
<text transform="translate(97.81,1363.04) rotate(-90) scale(1.0128,0.9832)" font-family='"Liberation Serif", serif' font-weight="700" font-size="86.4" fill="#000">H</text>
<text transform="translate(120.60,1297.21) rotate(-90) scale(1.0842,1.0526)" font-family='"Liberation Serif", serif' font-weight="700" font-size="58" fill="#000">2</text>
<text transform="translate(97.47,1244.58) rotate(-90) scale(0.9941,0.9646)" font-family='"Liberation Serif", serif' font-weight="700" font-size="86.4" fill="#000">consumption</text>
<text transform="translate(94.65,780.99) rotate(-90) scale(1.0815,0.8519)" font-family='"Liberation Serif", "Noto Serif CJK SC", "Noto Sans CJK SC", serif' font-weight="400" font-size="86.4" fill="#000">（</text>
<text transform="translate(97.79,682.80) rotate(-90) scale(0.9969,1.0003)" font-family='"Liberation Serif", serif' font-weight="700" font-size="86.4" fill="#000">a.u.</text>
<text transform="translate(94.87,542.21) rotate(-90) scale(1.1010,0.8776)" font-family='"Liberation Serif", "Noto Serif CJK SC", "Noto Sans CJK SC", serif' font-weight="400" font-size="86.4" fill="#000">）</text>
<text transform="translate(115.41,1928.42) scale(0.9645,1.0286)" font-family='"Liberation Serif", serif' font-weight="700" font-size="77" fill="#000">100</text>
<text transform="translate(301.34,1928.42) scale(0.9645,1.0286)" font-family='"Liberation Serif", serif' font-weight="700" font-size="77" fill="#000">200</text>
<text transform="translate(488.56,1928.42) scale(0.9645,1.0286)" font-family='"Liberation Serif", serif' font-weight="700" font-size="77" fill="#000">300</text>
<text transform="translate(675.79,1928.42) scale(0.9645,1.0286)" font-family='"Liberation Serif", serif' font-weight="700" font-size="77" fill="#000">400</text>
<text transform="translate(863.02,1928.42) scale(0.9645,1.0286)" font-family='"Liberation Serif", serif' font-weight="700" font-size="77" fill="#000">500</text>
<text transform="translate(1050.25,1928.42) scale(0.9645,1.0286)" font-family='"Liberation Serif", serif' font-weight="700" font-size="77" fill="#000">600</text>
<text transform="translate(1237.48,1928.42) scale(0.9645,1.0286)" font-family='"Liberation Serif", serif' font-weight="700" font-size="77" fill="#000">700</text>
<text transform="translate(1424.70,1928.42) scale(0.9645,1.0286)" font-family='"Liberation Serif", serif' font-weight="700" font-size="77" fill="#000">800</text>
<text transform="translate(1611.93,1928.42) scale(0.9645,1.0286)" font-family='"Liberation Serif", serif' font-weight="700" font-size="77" fill="#000">900</text>
<text transform="translate(1780.59,1928.42) scale(0.9645,1.0286)" font-family='"Liberation Serif", serif' font-weight="700" font-size="77" fill="#000">1000</text>
</g>
</svg></body></html>
